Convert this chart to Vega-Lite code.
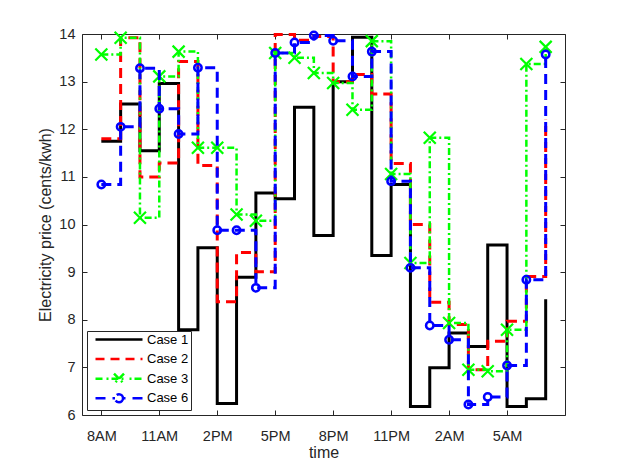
{
  "$schema": "https://vega.github.io/schema/vega-lite/v6.json",
  "description": "Electricity price per hour for four cases, drawn as stairs",
  "width": 483,
  "height": 381,
  "autosize": {"type": "none"},
  "padding": {"left": 82, "top": 34, "right": 58, "bottom": 52},
  "background": "white",
  "config": {
    "font": "Liberation Sans",
    "view": {"stroke": "#262626", "strokeWidth": 1},
    "axis": {
      "grid": false,
      "domain": false,
      "tickColor": "#262626",
      "tickSize": -5,
      "tickWidth": 1,
      "labelColor": "#262626",
      "labelFontSize": 14.5,
      "titleColor": "#262626",
      "titleFontSize": 16,
      "titleFontWeight": "normal"
    }
  },
  "data": {
    "values": [
      {"t": 1, "Case 1": 11.75, "Case 2": 11.8, "Case 3": 13.57, "Case 6": 10.84},
      {"t": 2, "Case 1": 12.53, "Case 2": 13.92, "Case 3": 13.92, "Case 6": 12.05},
      {"t": 3, "Case 1": 11.55, "Case 2": 11.0, "Case 3": 10.14, "Case 6": 13.28},
      {"t": 4, "Case 1": 12.96, "Case 2": 11.29, "Case 3": 13.11, "Case 6": 12.43},
      {"t": 5, "Case 1": 7.79, "Case 2": 13.42, "Case 3": 13.63, "Case 6": 11.9},
      {"t": 6, "Case 1": 9.51, "Case 2": 11.24, "Case 3": 11.61, "Case 6": 13.29},
      {"t": 7, "Case 1": 6.24, "Case 2": 8.38, "Case 3": 11.61, "Case 6": 9.88},
      {"t": 8, "Case 1": 8.89, "Case 2": 9.41, "Case 3": 10.21, "Case 6": 9.88},
      {"t": 9, "Case 1": 10.66, "Case 2": 9.01, "Case 3": 10.08, "Case 6": 8.67},
      {"t": 10, "Case 1": 10.54, "Case 2": 13.99, "Case 3": 13.6, "Case 6": 13.6},
      {"t": 11, "Case 1": 12.46, "Case 2": 13.87, "Case 3": 13.5, "Case 6": 13.82},
      {"t": 12, "Case 1": 9.77, "Case 2": 13.95, "Case 3": 13.18, "Case 6": 13.97},
      {"t": 13, "Case 1": 13.0, "Case 2": 13.0, "Case 3": 12.97, "Case 6": 13.86},
      {"t": 14, "Case 1": 13.93, "Case 2": 13.15, "Case 3": 12.41, "Case 6": 13.11},
      {"t": 15, "Case 1": 9.35, "Case 2": 12.74, "Case 3": 13.85, "Case 6": 13.63},
      {"t": 16, "Case 1": 10.84, "Case 2": 11.28, "Case 3": 11.06, "Case 6": 10.91},
      {"t": 17, "Case 1": 6.18, "Case 2": 10.0, "Case 3": 9.19, "Case 6": 9.09},
      {"t": 18, "Case 1": 6.99, "Case 2": 8.37, "Case 3": 11.82, "Case 6": 7.88},
      {"t": 19, "Case 1": 7.72, "Case 2": 7.9, "Case 3": 7.93, "Case 6": 7.58},
      {"t": 20, "Case 1": 7.44, "Case 2": 6.95, "Case 3": 6.95, "Case 6": 6.22},
      {"t": 21, "Case 1": 9.57, "Case 2": 7.55, "Case 3": 6.92, "Case 6": 6.38},
      {"t": 22, "Case 1": 6.18, "Case 2": 7.97, "Case 3": 7.79, "Case 6": 7.04},
      {"t": 23, "Case 1": 6.34, "Case 2": 8.91, "Case 3": 13.37, "Case 6": 8.84},
      {"t": 24, "Case 1": 8.43, "Case 2": 12.2, "Case 3": 13.73, "Case 6": 13.57}
    ]
  },
  "transform": [
    {"fold": ["Case 1", "Case 2", "Case 3", "Case 6"], "as": ["series", "v"]}
  ],
  "layer": [
    {
      "transform": [{"filter": "datum.t < 0"}],
      "mark": {"type": "point", "filled": false, "strokeWidth": 2.5, "opacity": 1},
      "encoding": {
        "x": {"field": "t", "type": "quantitative", "scale": {"domain": [0, 25], "nice": false, "zero": false}, "axis": null},
        "y": {"field": "v", "type": "quantitative", "scale": {"domain": [6, 14], "nice": false, "zero": false}, "axis": null},
        "color": {
          "field": "series", "type": "nominal",
          "scale": {"domain": ["Case 1", "Case 2", "Case 3", "Case 6"], "range": ["#000000", "#ff0000", "#00ff00", "#0000ff"]},
          "legend": {
            "title": null,
            "orient": "bottom-left",
            "offset": 5,
            "padding": 2,
            "strokeColor": "#262626",
            "fillColor": "white",
            "symbolSize": 100,
            "symbolStrokeWidth": 2.5,
            "symbolOpacity": 1,
            "labelFontSize": 13,
            "labelColor": "#000000",
            "labelOffset": 45,
            "rowPadding": -1.4,
            "gridAlign": "all"
          }
        },
        "shape": {
          "field": "series", "type": "nominal",
          "scale": {
            "domain": ["Case 1", "Case 2", "Case 3", "Case 6"],
            "range": [
              "M0,0H9.4",
              "M0,0H1.8M3,0H4.8M6,0H7.8M9,0H9.4",
              "M0,0H1.6M2.2,0H2.6M3.2,0H6.2M6.8,0H7.2M7.8,0H9.4M3.7,-1L5.7,1M5.7,-1L3.7,1",
              "M0,0H2M3.4,0H3.9M5.5,0H6M7.4,0H9.4M5.5,0A0.8,0.8,0,1,1,3.9,0A0.8,0.8,0,1,1,5.5,0"
            ]
          },
          "legend": {"title": null}
        }
      }
    },
    {
      "transform": [{"filter": {"field": "series", "oneOf": ["Case 1", "Case 2"]}}],
      "mark": {"type": "line", "interpolate": "step-after", "strokeWidth": 3},
      "encoding": {
        "x": {
          "field": "t", "type": "quantitative",
          "axis": {
            "orient": "bottom",
            "values": [1, 4, 7, 10, 13, 16, 19, 22],
            "labelExpr": "((((datum.value + 7) % 24) % 12 == 0) ? 12 : ((datum.value + 7) % 24) % 12) + (((datum.value + 7) % 24) < 12 ? 'AM' : 'PM')",
            "labelPadding": 19,
            "title": "time",
            "titlePadding": 2
          }
        },
        "y": {
          "field": "v", "type": "quantitative",
          "axis": {
            "orient": "left",
            "values": [6, 7, 8, 9, 10, 11, 12, 13, 14],
            "labelPadding": 12,
            "title": "Electricity price (cents/kwh)",
            "titlePadding": 5
          }
        },
        "color": {"field": "series", "type": "nominal", "legend": null},
        "strokeDash": {
          "field": "series", "type": "nominal",
          "scale": {"domain": ["Case 1", "Case 2", "Case 3", "Case 6"], "range": [[1, 0], [10, 6], [7, 3, 2, 3], [10, 6]]},
          "legend": null
        }
      }
    },
    {
      "transform": [{"filter": {"field": "series", "equal": "Case 3"}}],
      "mark": {"type": "line", "interpolate": "step-after", "strokeWidth": 2.5},
      "encoding": {
        "x": {"field": "t", "type": "quantitative", "axis": null},
        "y": {"field": "v", "type": "quantitative", "axis": null},
        "color": {"field": "series", "type": "nominal", "legend": null},
        "strokeDash": {"field": "series", "type": "nominal", "legend": null}
      }
    },
    {
      "transform": [{"filter": {"field": "series", "equal": "Case 3"}}],
      "mark": {"type": "point", "shape": "M-1,-1L1,1M1,-1L-1,1", "size": 144, "filled": false, "strokeWidth": 2.2, "opacity": 1},
      "encoding": {
        "x": {"field": "t", "type": "quantitative", "axis": {"orient": "top", "values": [1, 4, 7, 10, 13, 16, 19, 22], "labels": false, "title": null}},
        "y": {"field": "v", "type": "quantitative", "axis": {"orient": "right", "values": [6, 7, 8, 9, 10, 11, 12, 13, 14], "labels": false, "title": null}},
        "color": {"field": "series", "type": "nominal", "legend": null}
      }
    },
    {
      "transform": [{"filter": {"field": "series", "equal": "Case 6"}}],
      "mark": {"type": "line", "interpolate": "step-after", "strokeWidth": 3},
      "encoding": {
        "x": {"field": "t", "type": "quantitative", "axis": null},
        "y": {"field": "v", "type": "quantitative", "axis": null},
        "color": {"field": "series", "type": "nominal", "legend": null},
        "strokeDash": {"field": "series", "type": "nominal", "legend": null}
      }
    },
    {
      "transform": [{"filter": {"field": "series", "equal": "Case 6"}}],
      "mark": {"type": "point", "shape": "circle", "size": 55, "filled": false, "strokeWidth": 2.5, "opacity": 1},
      "encoding": {
        "x": {"field": "t", "type": "quantitative", "axis": null},
        "y": {"field": "v", "type": "quantitative", "axis": null},
        "color": {"field": "series", "type": "nominal", "legend": null}
      }
    }
  ],
  "resolve": {"axis": {"x": "independent", "y": "independent"}}
}
